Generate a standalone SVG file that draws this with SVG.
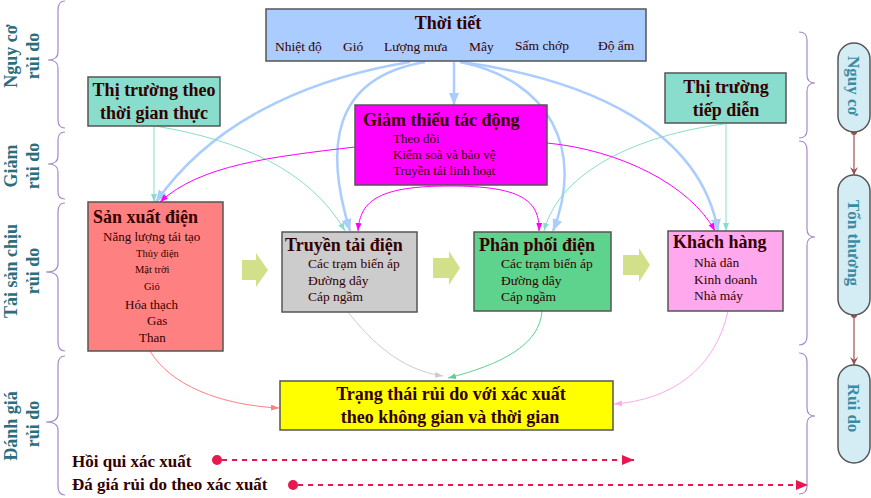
<svg xmlns="http://www.w3.org/2000/svg" width="871" height="498" viewBox="0 0 871 498">
<style>
text{font-family:"Liberation Serif","Times New Roman",serif;fill:#330000}
.t{font-weight:bold;font-size:18px}
.s{font-size:13.5px}
.xs{font-size:10.5px}
.box{stroke:#555;stroke-width:1.5}
.lbl{font-weight:bold;font-size:18px;fill:#2b6e7e}
.pl{font-weight:bold;font-size:17px;fill:#3a8ca5}
.brace{fill:none;stroke:#a58acb;stroke-width:1.2}
.blk{fill:#d3e08a}
.c{fill:none}
</style>
<defs>
<marker id="mb" markerUnits="userSpaceOnUse" viewBox="0 0 12 10" markerWidth="12" markerHeight="10" refX="12" refY="5" orient="auto"><path d="M0,0 L12,5 L0,10 z" fill="#aaccff"/></marker>
<marker id="mt" markerUnits="userSpaceOnUse" viewBox="0 0 8 6" markerWidth="8" markerHeight="6" refX="8" refY="3" orient="auto"><path d="M0,0 L8,3 L0,6 z" fill="#88ddcc"/></marker>
<marker id="mm" markerUnits="userSpaceOnUse" viewBox="0 0 8 6" markerWidth="8" markerHeight="6" refX="8" refY="3" orient="auto"><path d="M0,0 L8,3 L0,6 z" fill="#ff00ff"/></marker>
<marker id="ms" markerUnits="userSpaceOnUse" viewBox="0 0 8 6" markerWidth="8" markerHeight="6" refX="8" refY="3" orient="auto"><path d="M0,0 L8,3 L0,6 z" fill="#ff8080"/></marker>
<marker id="mg" markerUnits="userSpaceOnUse" viewBox="0 0 8 6" markerWidth="8" markerHeight="6" refX="8" refY="3" orient="auto"><path d="M0,0 L8,3 L0,6 z" fill="#cccccc"/></marker>
<marker id="mn" markerUnits="userSpaceOnUse" viewBox="0 0 8 6" markerWidth="8" markerHeight="6" refX="8" refY="3" orient="auto"><path d="M0,0 L8,3 L0,6 z" fill="#5dd38e"/></marker>
<marker id="mp" markerUnits="userSpaceOnUse" viewBox="0 0 8 6" markerWidth="8" markerHeight="6" refX="8" refY="3" orient="auto"><path d="M0,0 L8,3 L0,6 z" fill="#ffa8ee"/></marker>
<marker id="mr" markerUnits="userSpaceOnUse" viewBox="0 0 12 10" markerWidth="12" markerHeight="10" refX="12" refY="5" orient="auto"><path d="M0,0 L12,5 L0,10 z" fill="#e8174f"/></marker>
<marker id="mbr" markerUnits="userSpaceOnUse" viewBox="0 0 8 8" markerWidth="8" markerHeight="8" refX="8" refY="4" orient="auto"><path d="M0,0 L8,4 L0,8 L3,4 z" fill="#9a5050"/></marker>
<marker id="dbr" markerUnits="userSpaceOnUse" viewBox="0 0 6 6" markerWidth="6" markerHeight="6" refX="3" refY="3"><circle cx="3" cy="3" r="3" fill="#9a5050"/></marker>
</defs>

<g id="braces-left">
<path class="brace" d="M65,1 Q58,1 58,10 L58,52 Q58,60 48,60 Q58,60 58,68 L58,120 Q58,128 65,128"/>
<path class="brace" d="M65,132 Q58,132 58,140 L58,156 Q58,164 48,164 Q58,164 58,172 L58,192 Q58,199 65,199"/>
<path class="brace" d="M65,203 Q58,203 58,212 L58,264 Q58,272 46,272 Q58,272 58,280 L58,342 Q58,351 65,351"/>
<path class="brace" d="M65,356 Q58,356 58,365 L58,414 Q58,422 46,422 Q58,422 58,430 L58,486 Q58,495 65,495"/>
</g>
<g id="braces-right">
<path class="brace" d="M799,32 Q807,32 807,40 L807,75 Q807,83 815,83 Q807,83 807,91 L807,130 Q807,138 799,138"/>
<path class="brace" d="M799,141 Q807,141 807,150 L807,229 Q807,237 815,237 Q807,237 807,245 L807,336 Q807,345 799,345"/>
<path class="brace" d="M799,353 Q807,353 807,362 L807,408 Q807,416 815,416 Q807,416 807,424 L807,486 Q807,494 799,494"/>
</g>

<g id="labels-left">
<text class="lbl" text-anchor="middle" transform="translate(17,56) rotate(-90)">Nguy cơ</text>
<text class="lbl" text-anchor="middle" transform="translate(39,56) rotate(-90)">rủi do</text>
<text class="lbl" text-anchor="middle" transform="translate(17,166) rotate(-90)">Giảm</text>
<text class="lbl" text-anchor="middle" transform="translate(39,166) rotate(-90)">rủi do</text>
<text class="lbl" text-anchor="middle" transform="translate(17,271) rotate(-90)">Tài sản chịu</text>
<text class="lbl" text-anchor="middle" transform="translate(39,271) rotate(-90)">rủi do</text>
<text class="lbl" text-anchor="middle" transform="translate(17,426) rotate(-90)">Đánh giá</text>
<text class="lbl" text-anchor="middle" transform="translate(39,424) rotate(-90)">rủi do</text>
</g>

<g id="connectors">
<path class="c" stroke="#aaccff" stroke-width="2.5" d="M410,62 C330,75 220,110 156,202" marker-end="url(#mb)"/>
<path class="c" stroke="#aaccff" stroke-width="2.5" d="M425,62 C330,78 325,150 350,231" marker-end="url(#mb)"/>
<path class="c" stroke="#aaccff" stroke-width="2.5" d="M454,62 L454,105" marker-end="url(#mb)"/>
<path class="c" stroke="#aaccff" stroke-width="2.5" d="M460,62 C550,80 585,150 553,231" marker-end="url(#mb)"/>
<path class="c" stroke="#aaccff" stroke-width="2.5" d="M462,62 C590,80 700,130 718,231" marker-end="url(#mb)"/>
<path class="c" stroke="#88ddcc" stroke-width="1" d="M154,126 L154,202" marker-end="url(#mt)"/>
<path class="c" stroke="#88ddcc" stroke-width="1" d="M155,126 C240,140 310,170 345,231" marker-end="url(#mt)"/>
<path class="c" stroke="#88ddcc" stroke-width="1" d="M726,123 L726,231" marker-end="url(#mt)"/>
<path class="c" stroke="#88ddcc" stroke-width="1" d="M724,124 C640,135 560,170 544,231" marker-end="url(#mt)"/>
<path class="c" stroke="#ff00ff" stroke-width="1" d="M355,147 C270,157 200,165 160,202" marker-end="url(#mm)"/>
<path class="c" stroke="#ff00ff" stroke-width="1" d="M547,143 C620,150 690,185 715,231" marker-end="url(#mm)"/>
<path class="c" stroke="#ff00ff" stroke-width="1" d="M450,186 C380,186 360,200 358,231" marker-end="url(#mm)"/>
<path class="c" stroke="#ff00ff" stroke-width="1" d="M450,186 C520,186 540,200 539,231" marker-end="url(#mm)"/>
<path class="c" stroke="#ff8080" stroke-width="1" d="M150,351 C170,385 220,405 279,408" marker-end="url(#ms)"/>
<path class="c" stroke="#cccccc" stroke-width="1" d="M348,312 C370,340 400,370 443,376" marker-end="url(#mg)"/>
<path class="c" stroke="#5dd38e" stroke-width="1" d="M542,311 C540,345 500,365 448,378" marker-end="url(#mn)"/>
<path class="c" stroke="#ffa8ee" stroke-width="1" d="M728,311 C715,370 670,400 614,404" marker-end="url(#mp)"/>
<path class="c" stroke="#e8174f" stroke-width="2" stroke-dasharray="5 5" d="M222,460 L634,460" marker-end="url(#mr)"/>
<path class="c" stroke="#e8174f" stroke-width="2" stroke-dasharray="5 5" d="M298,485 L808,485" marker-end="url(#mr)"/>
<path class="c" stroke="#9a5050" stroke-width="1.2" d="M854,132 L854,175" marker-start="url(#dbr)" marker-end="url(#mbr)"/>
<path class="c" stroke="#9a5050" stroke-width="1.2" d="M854,315 L854,365" marker-start="url(#dbr)" marker-end="url(#mbr)"/>
</g>

<g id="block-arrows">
<polygon class="blk" points="242,260 256,260 256,253 268,270 256,287 256,280 242,280"/>
<polygon class="blk" points="433,258 449,258 449,251 460,268 449,285 449,278 433,278"/>
<polygon class="blk" points="623,255 639,255 639,248 650,265 639,282 639,275 623,275"/>
</g>

<g id="thoi-tiet">
<rect class="box" x="266" y="9" width="380" height="52" fill="#aaccff"/>
<text class="t" x="448" y="29" text-anchor="middle">Thời tiết</text>
<text class="s" x="275" y="51">Nhiệt độ</text>
<text class="s" x="343" y="51">Gió</text>
<text class="s" x="384" y="51">Lượng mưa</text>
<text class="s" x="469" y="51">Mây</text>
<text class="s" x="515" y="50">Sấm chớp</text>
<text class="s" x="598" y="50">Độ ẩm</text>
</g>

<g id="thi-truong-thuc">
<rect class="box" x="88" y="77" width="132" height="49" fill="#88ddcc"/>
<text class="t" x="154" y="96" text-anchor="middle">Thị trường theo</text>
<text class="t" x="154" y="119" text-anchor="middle">thời gian thực</text>
</g>

<g id="giam-thieu">
<rect class="box" x="355" y="105" width="192" height="80" fill="#ff00ff"/>
<text class="t" x="363" y="126">Giảm thiểu tác động</text>
<text class="s" x="393" y="143" style="font-size:13px">Theo dõi</text>
<text class="s" x="393" y="159" style="font-size:13px">Kiểm soà và bảo vệ</text>
<text class="s" x="393" y="175" style="font-size:13px">Truyền tải linh hoạt</text>
</g>

<g id="thi-truong-tiep">
<rect class="box" x="665" y="73" width="121" height="50" fill="#88ddcc"/>
<text class="t" x="726" y="93" text-anchor="middle">Thị trường</text>
<text class="t" x="726" y="116" text-anchor="middle">tiếp diễn</text>
</g>

<g id="san-xuat">
<rect class="box" x="88" y="202" width="135" height="149" fill="#ff8080"/>
<text class="t" x="93" y="223">Sản xuất điện</text>
<text class="s" x="103" y="241" style="font-size:13px">Năng lượng tái tạo</text>
<text class="xs" x="136" y="257">Thủy điện</text>
<text class="xs" x="135" y="273">Mặt trời</text>
<text class="xs" x="144" y="290">Gió</text>
<text class="s" x="125" y="309" style="font-size:13px">Hóa thạch</text>
<text class="s" x="147" y="325" style="font-size:13px">Gas</text>
<text class="s" x="139" y="342" style="font-size:13px">Than</text>
</g>

<g id="truyen-tai">
<rect class="box" x="282" y="232" width="135" height="80" fill="#cccccc"/>
<text class="t" x="285" y="251">Truyền tải điện</text>
<text class="s" x="308" y="268">Các trạm biến áp</text>
<text class="s" x="308" y="285">Đường dây</text>
<text class="s" x="308" y="301">Cáp ngầm</text>
</g>

<g id="phan-phoi">
<rect class="box" x="474" y="232" width="137" height="79" fill="#5dd38e"/>
<text class="t" x="479" y="251">Phân phối điện</text>
<text class="s" x="501" y="268">Các trạm biến áp</text>
<text class="s" x="501" y="285">Đường dây</text>
<text class="s" x="501" y="301">Cáp ngầm</text>
</g>

<g id="khach-hang">
<rect class="box" x="668" y="231" width="115" height="80" fill="#ffa8ee"/>
<text class="t" x="673" y="248">Khách hàng</text>
<text class="s" x="694" y="267">Nhà dân</text>
<text class="s" x="694" y="284">Kinh doanh</text>
<text class="s" x="694" y="300">Nhà máy</text>
</g>

<g id="trang-thai">
<rect class="box" x="280" y="381" width="333" height="49" fill="#ffff00"/>
<text class="t" x="451" y="400" text-anchor="middle">Trạng thái rủi do với xác xuất</text>
<text class="t" x="450" y="423" text-anchor="middle">theo không gian và thời gian</text>
</g>

<g id="hoi-qui">
<text class="t" x="72" y="467" style="font-size:17px">Hồi qui xác xuất</text>
<circle cx="217" cy="460" r="5" fill="#e8174f"/>
</g>
<g id="danh-gia">
<text class="t" x="72" y="490" style="font-size:17px">Đá giá rủi do theo xác xuất</text>
<circle cx="293" cy="485" r="5" fill="#e8174f"/>
</g>

<g id="pill-nguy-co">
<rect class="box" x="838" y="43" width="32" height="89" rx="16" fill="#d4ecf4"/>
<text class="pl" text-anchor="middle" transform="translate(848,86) rotate(90)">Nguy cơ</text>
</g>
<g id="pill-ton-thuong">
<rect class="box" x="838" y="175" width="32" height="140" rx="16" fill="#d4ecf4"/>
<text class="pl" text-anchor="middle" transform="translate(848,243) rotate(90)">Tổn thương</text>
</g>
<g id="pill-rui-do">
<rect class="box" x="838" y="365" width="32" height="98" rx="16" fill="#d4ecf4"/>
<text class="pl" text-anchor="middle" transform="translate(848,408) rotate(90)">Rủi do</text>
</g>
</svg>
